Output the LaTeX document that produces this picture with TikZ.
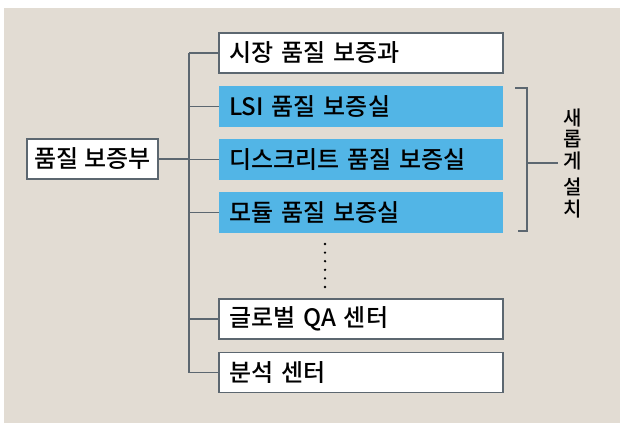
\documentclass[tikz,border=0pt]{standalone}
\usepackage{fontspec}
\setmainfont{Noto Sans CJK KR}[UprightFont=* Medium]
\definecolor{bgbeige}{HTML}{E2DCD3}
\definecolor{boxblue}{HTML}{52B5E6}
\definecolor{linegray}{HTML}{5C6770}
\tikzset{
  conn/.style={draw=linegray, line width=1.2pt},
  whitebox/.style={draw=linegray, line width=1.2pt, fill=white, minimum height=40pt,
    inner xsep=10pt, inner ysep=0pt, text width=264pt, align=left, font=\fontsize{24}{26}\selectfont},
  bluebox/.style={fill=boxblue, minimum height=41pt,
    inner xsep=10pt, inner ysep=0pt, text width=264pt, align=left, font=\fontsize{24}{26}\selectfont},
  rootbox/.style={draw=linegray, line width=1.2pt, fill=white, minimum height=40pt, minimum width=131pt,
    inner sep=0pt, font=\fontsize{24}{26}\selectfont},
}
\begin{document}
\begin{tikzpicture}[x=1pt,y=-1pt]
\useasboundingbox (0,0) rectangle (620,423);
\fill[white] (0,0) rectangle (620,423);
\fill[bgbeige] (4,8) rectangle (620,423);
\node[rootbox] (root) at (92.5,159) {품질 보증부};
\node[whitebox] (b1) at (361,53) {시장 품질 보증과};
\node[bluebox] (b2) at (361,106.5) {LSI 품질 보증실};
\node[bluebox] (b3) at (361,159.5) {디스크리트 품질 보증실};
\node[bluebox] (b4) at (361,212.5) {모듈 품질 보증실};
\node[whitebox] (b5) at (361,319) {글로벌 QA 센터};
\node[whitebox] (b6) at (361,372.5) {분석 센터};
\coordinate (tk) at (189,0);
\draw[conn] (b1.west -| tk) -- (b6.west -| tk);
\draw[conn] (root.east) -- (root.east -| tk);
\foreach \b in {b1,b2,b3,b4,b5,b6}{
  \draw[conn] (\b.west -| tk) -- (\b.west);
}
\foreach \i in {0,...,5}{
  \fill[black] (325,244+8.6*\i) circle (1.3pt);
}
\coordinate (brtop) at (515,88);
\coordinate (brbot) at (518,231);
\coordinate (brx) at (527,0);
\node[font=\fontsize{20}{21.5}\selectfont, align=center, inner sep=0pt] (newlbl) at (573,163)
  {새\\롭\\게\\[5pt]설\\치};
\draw[conn] (brtop) -- (brtop -| brx) -- (brbot -| brx) -- (brbot);
\draw[conn] (newlbl.west -| brx) -- ([xshift=-6pt]newlbl.west);
\end{tikzpicture}
\end{document}
